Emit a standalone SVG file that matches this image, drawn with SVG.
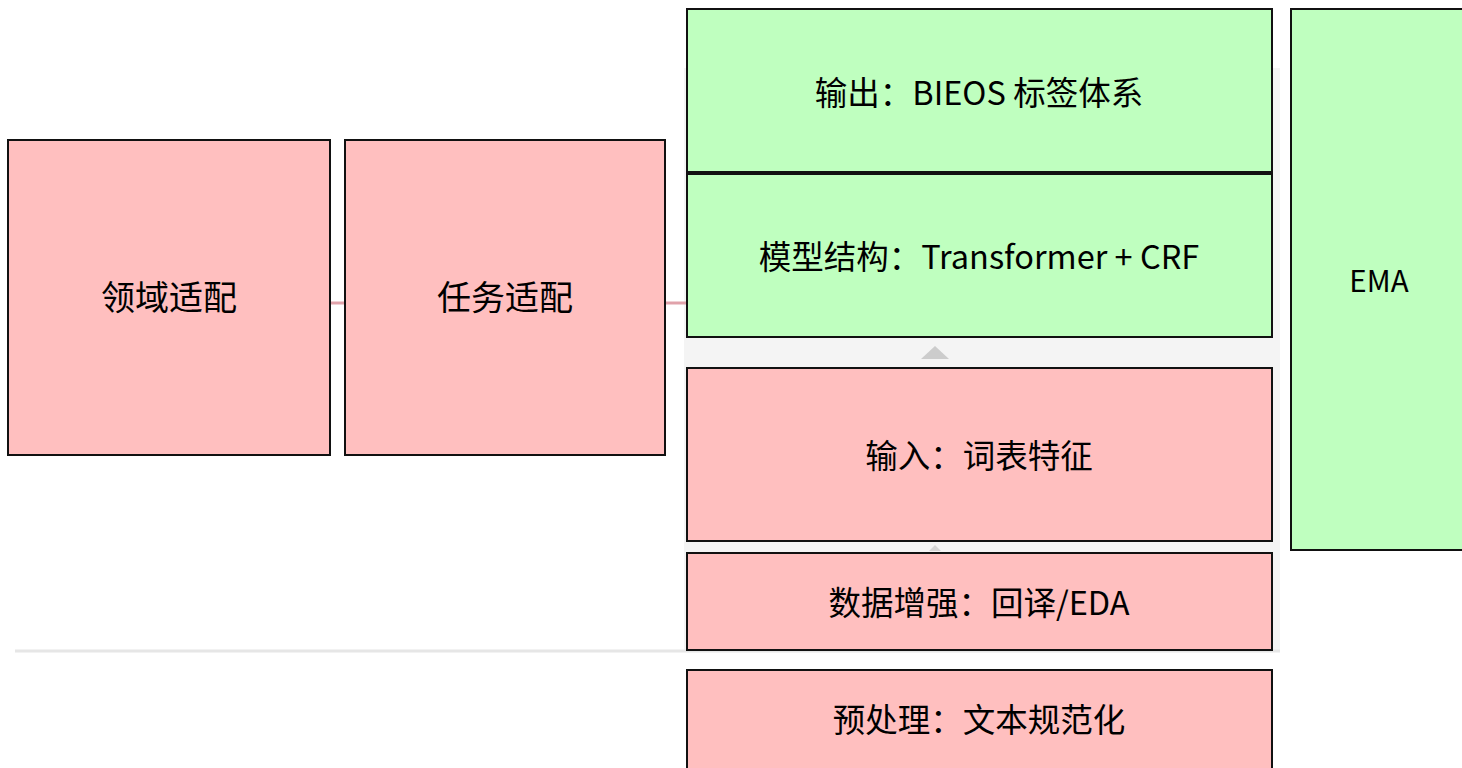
<svg xmlns="http://www.w3.org/2000/svg" width="1462" height="768" viewBox="0 0 1462 768">
<style>
.pink{fill:#ffbfbf;stroke:#111;stroke-width:2}
.green{fill:#bfffbf;stroke:#111;stroke-width:2}
.t{font-family:"Noto Sans CJK SC","Liberation Sans",sans-serif;fill:#000;text-anchor:middle;dominant-baseline:central}
.conn{stroke:#e0a2aa;stroke-width:3;fill:none}
</style>
<rect width="1462" height="768" fill="#fff"/>
<rect x="684" y="68" width="596" height="582" fill="#f4f4f4"/>
<line x1="15" y1="651" x2="1280" y2="651" stroke="#e6e6e6" stroke-width="3"/>
<g id="connectors">
<line class="conn" x1="330" y1="303" x2="345" y2="303"/>
<line class="conn" x1="665" y1="303" x2="687" y2="303"/>
<polygon points="921,359 949,359 935,346" fill="#cccccc"/>
<polygon points="929,551 941,551 935,545" fill="#d5d5d5"/>
</g>
<g id="n1"><rect class="pink" x="8" y="140" width="322" height="315"/><text class="t" x="169" y="295" font-size="34">领域适配</text></g>
<g id="n2"><rect class="pink" x="345" y="140" width="320" height="315"/><text class="t" x="505" y="295" font-size="34">任务适配</text></g>
<g id="n3"><rect class="green" x="687" y="9" width="585" height="163"/><text class="t" x="979" y="90" font-size="32.5">输出：BIEOS 标签体系</text></g>
<g id="n4"><rect class="green" x="687" y="174" width="585" height="163"/><text class="t" x="979" y="254" font-size="32.5">模型结构：Transformer + CRF</text></g>
<g id="n5"><rect class="pink" x="687" y="368" width="585" height="173"/><text class="t" x="979" y="453" font-size="32.5">输入：词表特征</text></g>
<g id="n6"><rect class="pink" x="687" y="553" width="585" height="97"/><text class="t" x="979" y="600" font-size="32.5">数据增强：回译/EDA</text></g>
<g id="n7"><rect class="pink" x="687" y="670" width="585" height="110"/><text class="t" x="979" y="717" font-size="32.5">预处理：文本规范化</text></g>
<g id="n8"><rect class="green" x="1291" y="9" width="180" height="541"/><text class="t" x="1379" y="279" font-size="29.5">EMA</text></g>
</svg>
